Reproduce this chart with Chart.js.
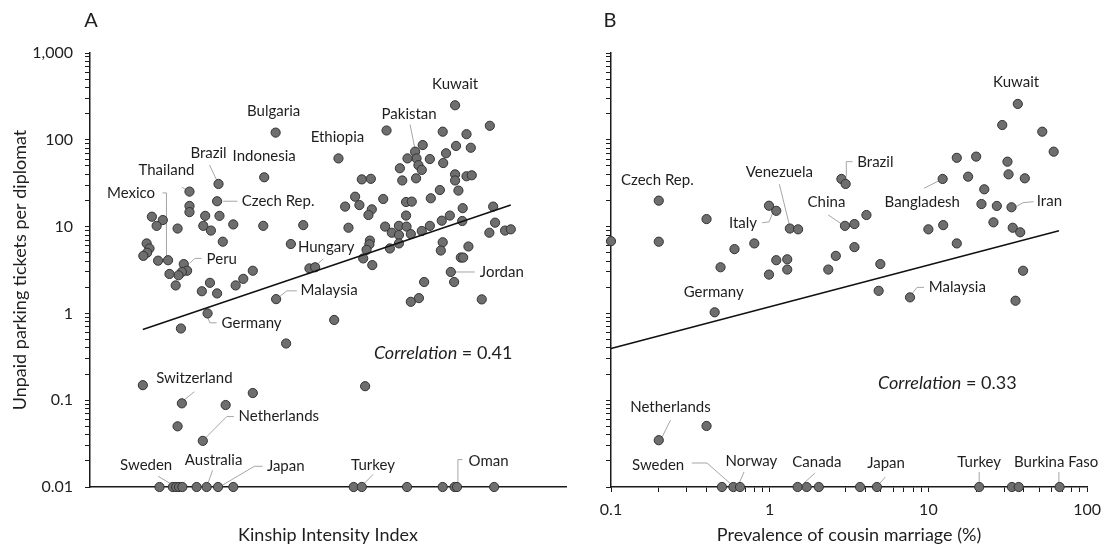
<!DOCTYPE html>
<html>
<head>
<meta charset="utf-8">
<script src="https://cdn.jsdelivr.net/npm/chart.js@4.4.0/dist/chart.umd.min.js"></script>
<style>
  body { margin: 0; background: #fff; }
  #wrap { position: relative; width: 1109px; height: 546px; }
  #chartA { position: absolute; left: 0; top: 0; }
  #chartB { position: absolute; left: 580px; top: 0; }
</style>
</head>
<body>
<div id="wrap">
  <canvas id="chartA" width="580" height="546"></canvas>
  <canvas id="chartB" width="529" height="546"></canvas>
</div>
<script>
// ---- Panel A: kinship intensity vs unpaid tickets ----
const kinshipIndex = [
  7.67, 8.40, 6.23, 7.41, 3.90, 7.91, 6.99, 7.69, 8.00, 6.83,
  7.48, 5.22, 6.86, 6.67, 7.14, 7.42, 6.90, 6.97, 6.51, 6.85,
  6.56, 7.67, 7.67, 7.91, 8.02, 3.66, 5.71, 5.90, 2.70, 7.35,
  7.74, 2.09, 7.16, 6.16, 5.57, 2.67, 5.66, 5.36, 2.09, 2.09,
  5.92, 5.85, 6.64, 6.76, 7.83, 8.47, 1.30, 1.53, 1.40, 1.84,
  2.42, 2.72, 2.38, 2.54, 3.01, 3.64, 4.48, 5.43, 2.79, 1.19,
  1.25, 1.20, 1.12, 1.43, 1.64, 1.97, 2.04, 1.93, 1.86, 1.67,
  1.80, 2.52, 2.35, 2.67, 3.42, 3.22, 3.06, 4.22, 4.61, 4.73,
  3.91, 2.47, 1.91, 5.13, 4.12, 7.56, 7.39, 7.82, 6.64, 6.20,
  6.49, 6.65, 7.14, 6.97, 6.34, 6.49, 6.74, 6.49, 6.30, 8.51,
  8.39, 8.72, 8.84, 5.88, 5.87, 5.81, 5.74, 5.93, 7.41, 7.37,
  7.95, 7.79, 7.84, 7.58, 7.65, 7.02, 6.91, 6.74, 8.23, 1.11,
  1.93, 1.84, 2.37, 2.85, 3.42, 5.78,
  1.46, 1.74, 1.81, 1.87, 1.94, 2.24, 2.45, 2.69, 3.01, 5.54,
  5.71, 6.66, 7.41, 7.66, 7.71, 8.49
];
const ticketsA = [
  250, 145, 128, 124, 121, 116, 87, 85, 81, 73,
  70, 61, 61, 61, 60, 54, 51, 45, 47, 36,
  34, 40, 34, 38, 39, 37, 35, 35.5, 31, 26.4,
  26, 25.3, 21.2, 20.8, 22.1, 19.6, 17.7, 17, 17.3, 14.7,
  15.8, 13.6, 19.2, 19.4, 16.3, 17, 13, 11.9, 10.2, 9.5,
  13.3, 13.3, 10.2, 9.0, 10.6, 10.2, 10.4, 9.7, 6.7, 6.4,
  5.6, 5.0, 4.6, 4.05, 4.1, 3.7, 3.1, 3.0, 2.75, 2.85,
  2.1, 2.25, 1.8, 1.7, 3.1, 2.5, 2.1, 6.3, 3.3, 3.4,
  1.46, 1.0, 0.67, 0.84, 0.45, 13.4, 11.7, 11.6, 13.4, 10,
  10.2, 10, 10.2, 8.9, 8.5, 8.0, 8.2, 6.4, 5.6, 11.1,
  8.5, 9.0, 9.3, 6.9, 6.25, 5.4, 4.3, 3.6, 6.6, 5.3,
  5.9, 4.4, 4.4, 3.0, 2.3, 2.3, 1.5, 1.36, 1.45, 0.149,
  0.092, 0.05, 0.034, 0.088, 0.121, 0.145,
  0.01, 0.01, 0.01, 0.01, 0.01, 0.01, 0.01, 0.01, 0.01, 0.01,
  0.01, 0.01, 0.01, 0.01, 0.01, 0.01
];
const fitAx = [1.11, 8.84];
const fitAy = [0.654, 17.7];

// ---- Panel B: cousin marriage vs unpaid tickets ----
const cousinMarriage = [
  36.6, 29.2, 52.2, 61.6, 15.1, 20.0, 31.5, 2.83, 3.01, 12.3,
  17.8, 32.0, 40.5, 22.5, 0.20, 21.6, 27.0, 33.4, 0.99, 1.10,
  4.07, 0.40, 2.98, 3.42, 1.34, 1.51, 10.0, 12.4, 25.7, 34.0,
  37.9, 0.10, 0.20, 0.80, 0.60, 15.1, 3.42, 2.61, 1.10, 1.29,
  1.29, 0.99, 0.49, 2.34, 4.98, 39.5, 4.86, 7.66, 35.4, 0.45,
  0.20, 0.40,
  0.50, 0.59, 0.65, 1.50, 1.71, 2.04, 3.71, 4.74, 20.9, 33.6,
  37.1, 67.1
];
const ticketsB = [
  259, 148, 124, 73, 62, 64, 56, 35.4, 31, 35.4,
  37.6, 40, 36, 26.9, 19.9, 18.2, 17.3, 16.7, 17.4, 15.2,
  13.6, 12.2, 10.2, 10.7, 9.5, 9.3, 9.3, 10.4, 11.2, 9.7,
  8.6, 6.8, 6.7, 6.4, 5.5, 6.4, 5.8, 4.6, 4.1, 4.2,
  3.2, 2.8, 3.4, 3.2, 3.7, 3.1, 1.82, 1.53, 1.40, 1.03,
  0.0346, 0.0505,
  0.01, 0.01, 0.01, 0.01, 0.01, 0.01, 0.01, 0.01, 0.01, 0.01,
  0.01, 0.01
];
const fitBx = [0.1, 66.5];
const fitBy = [0.394, 8.97];

// tick labels
const yTickValues = [0.01, 0.1, 1, 10, 100, 1000];
const yTickLabels = ['0.01', '0.1', '1', '10', '100', '1,000'];
const xTickValuesB = [0.1, 1, 10, 100];
const xTickLabelsB = ['0.1', '1', '10', '100'];

// country callouts: i = point index, dx/dy = label offset (px), leader = polyline offsets
const calloutsA = [
  { name: 'Kuwait', i: 0, dx: 0, dy: -21 },
  { name: 'Bulgaria', i: 4, dx: -2, dy: -21 },
  { name: 'Pakistan', i: 9, dx: -6, dy: -38, leader: [[-5, -27], [0, -2]] },
  { name: 'Ethiopia', i: 11, dx: -1, dy: -21 },
  { name: 'Indonesia', i: 25, dx: 0, dy: -21 },
  { name: 'Brazil', i: 28, dx: -10, dy: -31, leader: [[-9, -19], [-1.5, -3]] },
  { name: 'Thailand', i: 31, dx: -23, dy: -21, leader: [[-7.6, -4.4], [-2, -1]] },
  { name: 'Czech Rep.', i: 35, dx: 61, dy: 0, leader: [[6, 0], [20.4, 0]] },
  { name: 'Mexico', i: 64, dx: -37, dy: -67, leader: [[-5.6, -67.3], [-1.6, -67.3], [-1.6, -3.3]] },
  { name: 'Peru', i: 65, dx: 38, dy: -5, leader: [[6, -0.7], [11, -5.7], [17.7, -5.7]] },
  { name: 'Hungary', i: 79, dx: 11, dy: -20, leader: [[8, -8.4], [-1, 0]] },
  { name: 'Malaysia', i: 80, dx: 53, dy: -9, leader: [[4, -3], [10.7, -8.3], [20.7, -8.3]] },
  { name: 'Germany', i: 81, dx: 44, dy: 10, leader: [[0, 3.4], [2.3, 9.4], [9, 9.4]] },
  { name: 'Jordan', i: 113, dx: 51, dy: 0.6, leader: [[2, 0], [24, 0]] },
  { name: 'Switzerland', i: 120, dx: 12.5, dy: -25, leader: [[12.5, -11.6], [0, -1.6]] },
  { name: 'Netherlands', i: 122, dx: 76, dy: -24.3, leader: [[31, -24.3], [23.9, -24.3], [2.5, -2.7]] },
  { name: 'Sweden', i: 128, dx: -30, dy: -21.7, leader: [[-18, -10.7], [0, 0]] },
  { name: 'Australia', i: 132, dx: 7, dy: -26.7, leader: [[6, -16.7], [0, 0]] },
  { name: 'Japan', i: 133, dx: 67.7, dy: -20.7, leader: [[44.5, -20.7], [36.3, -20.7], [3, -1]] },
  { name: 'Turkey', i: 136, dx: 11.2, dy: -21.7, leader: [[11.4, -12.7], [0.7, -1.7]] },
  { name: 'Oman', i: 140, dx: 31.6, dy: -25.7, leader: [[5.5, -27.4], [0.9, -27.4], [0.9, 0]] }
];
const calloutsB = [
  { name: 'Kuwait', i: 0, dx: -1.7, dy: -21.3 },
  { name: 'Czech Rep.', i: 14, dx: -1.4, dy: -20.7 },
  { name: 'Venezuela', i: 24, dx: -10.5, dy: -56, leader: [[-10.5, -44.3], [0, -1.6]] },
  { name: 'Brazil', i: 7, dx: 34, dy: -16.7, leader: [[11.1, -17.3], [4.9, -17.3], [4.9, -2.3]] },
  { name: 'Italy', i: 19, dx: -33.3, dy: 12.6, leader: [[-14.1, 12], [-7.1, 11], [-3.5, 2]] },
  { name: 'China', i: 22, dx: -18.5, dy: -23.7, leader: [[-16.8, -11], [-2.1, -1]] },
  { name: 'Bangladesh', i: 9, dx: -20.4, dy: 23.3, leader: [[-18.6, 9.3], [-3.5, 1.7]] },
  { name: 'Iran', i: 17, dx: 37.9, dy: -6.6, leader: [[22.1, -5.6], [11.6, -4.6], [4.6, -0.6]] },
  { name: 'Germany', i: 49, dx: -1, dy: -20.6 },
  { name: 'Malaysia', i: 47, dx: 47.3, dy: -10, leader: [[14, -10], [7, -10], [1, -2.3]] },
  { name: 'Netherlands', i: 50, dx: 11.7, dy: -32.7, leader: [[11.7, -20], [3.4, -3.3]] },
  { name: 'Sweden', i: 53, dx: -75.2, dy: -21.7, leader: [[-41.5, -24], [-26.3, -24], [-1, -1.7]] },
  { name: 'Norway', i: 54, dx: 11.4, dy: -26, leader: [[4, -15], [-1, -3.4]] },
  { name: 'Canada', i: 56, dx: 10.2, dy: -25, leader: [[8.5, -14], [-3.3, -3.4]] },
  { name: 'Japan', i: 59, dx: 9.1, dy: -23.4, leader: [[8.4, -10], [1.7, -2.4]] },
  { name: 'Turkey', i: 60, dx: 0, dy: -25, leader: [[0, -15], [0, -3.4]] },
  { name: 'Burkina Faso', i: 63, dx: -3.5, dy: -25, leader: [[-0.7, -15], [-0.7, -3.4]] }
];

const FONT = 'Lato, "Open Sans", sans-serif';
const TEXT = '#1e1e1e';
const AXIS = '#1a1a1a';
const DOT = '#6e6e6e';
const DOT_EDGE = '#333333';
const LEADER = '#a6a6a6';

Chart.defaults.font.family = FONT;
Chart.defaults.color = TEXT;

// log ticks 1..9 per decade between the given majors
function logTicks(majors) {
  const out = [];
  majors.forEach((m, k) => {
    out.push({ value: m, major: true });
    if (k < majors.length - 1) {
      for (let s = 2; s <= 9; s++) out.push({ value: +(m * s).toPrecision(3), major: false });
    }
  });
  return out;
}
function majorLabel(values, labels) {
  return (v) => {
    const k = values.findIndex(t => Math.abs(t - v) / t < 1e-6);
    return k >= 0 ? labels[k] : '';
  };
}

const calloutPlugin = {
  id: 'callouts',
  beforeDatasetsDraw(chart, args, opts) {
    const ctx = chart.ctx;
    const pts = chart.getDatasetMeta(1).data;
    ctx.save();
    ctx.strokeStyle = LEADER;
    ctx.lineWidth = 1;
    opts.items.forEach(c => {
      if (!c.leader) return;
      const p = pts[c.i];
      ctx.beginPath();
      c.leader.forEach(([dx, dy], k) => {
        if (k === 0) ctx.moveTo(p.x + dx, p.y + dy);
        else ctx.lineTo(p.x + dx, p.y + dy);
      });
      ctx.stroke();
    });
    ctx.restore();
  },
  afterDatasetsDraw(chart, args, opts) {
    const ctx = chart.ctx;
    const area = chart.chartArea;
    const pts = chart.getDatasetMeta(1).data;
    ctx.save();
    ctx.fillStyle = TEXT;
    ctx.textBaseline = 'middle';
    ctx.textAlign = 'center';
    ctx.font = '15px ' + FONT;
    opts.items.forEach(c => {
      const p = pts[c.i];
      ctx.fillText(c.name, p.x + c.dx, p.y + c.dy);
    });

    // correlation note
    const cx = area.left + opts.corr.fx * (area.right - area.left);
    const cy = area.top + opts.corr.fy * (area.bottom - area.top);
    ctx.font = 'italic 18px ' + FONT;
    const w1 = ctx.measureText('Correlation').width;
    ctx.font = '18px ' + FONT;
    const rest = ' = ' + opts.corr.value;
    const w2 = ctx.measureText(rest).width;
    ctx.textAlign = 'left';
    ctx.font = 'italic 18px ' + FONT;
    ctx.fillText('Correlation', cx - (w1 + w2) / 2, cy);
    ctx.font = '18px ' + FONT;
    ctx.fillText(rest, cx - (w1 + w2) / 2 + w1, cy);

    // panel letter
    ctx.textAlign = 'center';
    ctx.font = '20px ' + FONT;
    ctx.fillText(opts.letter, area.left + opts.letterDx, 21);
    ctx.restore();
  }
};

function pointsDataset(xs, ys) {
  return {
    data: xs.map((x, i) => ({ x, y: ys[i] })),
    backgroundColor: DOT,
    borderColor: DOT_EDGE,
    borderWidth: 1,
    pointRadius: 4.6,
    clip: false,
    order: 1
  };
}
function fitDataset(xs, ys) {
  return {
    data: xs.map((x, i) => ({ x, y: ys[i] })),
    showLine: true,
    borderColor: '#111',
    borderWidth: 1.6,
    pointRadius: 0,
    clip: false,
    order: 0
  };
}

const yAxisBase = {
  type: 'logarithmic',
  min: 0.01,
  max: 1000,
  border: { color: AXIS, width: 1.5 },
  grid: { drawOnChartArea: false, drawTicks: true, tickLength: 5, color: AXIS, lineWidth: 1 },
  afterBuildTicks: (axis) => { axis.ticks = logTicks(yTickValues); }
};

// Panel A
new Chart(document.getElementById('chartA'), {
  type: 'scatter',
  data: { datasets: [fitDataset(fitAx, fitAy), pointsDataset(kinshipIndex, ticketsA)] },
  options: {
    responsive: false,
    animation: false,
    layout: { padding: { top: 53, right: 14, bottom: 0, left: 0 } },
    plugins: {
      legend: { display: false },
      tooltip: { enabled: false },
      callouts: { items: calloutsA, corr: { value: '0.41', fx: 0.742, fy: 0.691 }, letter: 'A', letterDx: 1 }
    },
    scales: {
      x: {
        type: 'linear',
        min: 0,
        max: 10,
        border: { color: AXIS, width: 1.5 },
        grid: { display: false },
        ticks: { display: false },
        title: { display: true, text: 'Kinship Intensity Index', font: { size: 18 }, color: TEXT, padding: 0 },
        afterFit: (s) => { s.height = 59; }
      },
      y: {
        ...yAxisBase,
        ticks: { autoSkip: false, padding: 12, font: { size: 16 }, color: TEXT, callback: majorLabel(yTickValues, yTickLabels) },
        title: { display: true, text: 'Unpaid parking tickets per diplomat', font: { size: 18 }, color: TEXT, padding: { top: 9, bottom: 0 } },
        afterFit: (s) => { s.width = 90; }
      }
    }
  },
  plugins: [calloutPlugin]
});

// Panel B
new Chart(document.getElementById('chartB'), {
  type: 'scatter',
  data: { datasets: [fitDataset(fitBx, fitBy), pointsDataset(cousinMarriage, ticketsB)] },
  options: {
    responsive: false,
    animation: false,
    layout: { padding: { top: 53, right: 19, bottom: 0, left: 0 } },
    plugins: {
      legend: { display: false },
      tooltip: { enabled: false },
      callouts: { items: calloutsB, corr: { value: '0.33', fx: 0.7065, fy: 0.7616 }, letter: 'B', letterDx: -1 }
    },
    scales: {
      x: {
        type: 'logarithmic',
        min: 0.1,
        max: 100,
        border: { color: AXIS, width: 1.5 },
        grid: { drawOnChartArea: false, drawTicks: true, tickLength: 5, color: AXIS, lineWidth: 1 },
        afterBuildTicks: (axis) => { axis.ticks = logTicks(xTickValuesB); },
        ticks: { autoSkip: false, maxRotation: 0, minRotation: 0, padding: 8, font: { size: 16 }, color: TEXT, callback: majorLabel(xTickValuesB, xTickLabelsB) },
        title: { display: true, text: 'Prevalence of cousin marriage (%)', font: { size: 18 }, color: TEXT, padding: 0 },
        afterFit: (s) => { s.height = 59; }
      },
      y: {
        ...yAxisBase,
        ticks: { autoSkip: false, padding: 0, callback: () => '' },
        afterFit: (s) => { s.width = 31; }
      }
    }
  },
  plugins: [calloutPlugin]
});
</script>
</body>
</html>
